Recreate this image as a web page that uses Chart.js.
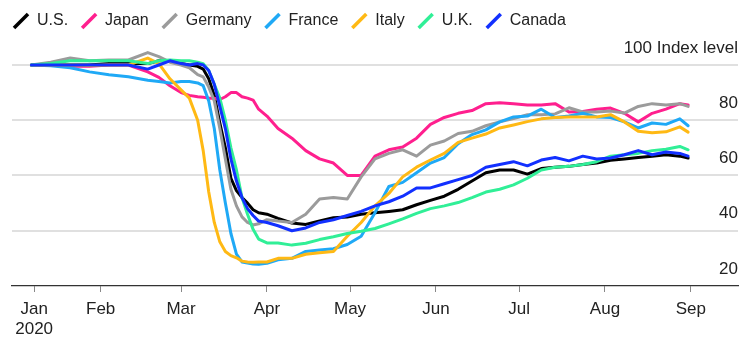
<!DOCTYPE html>
<html>
<head>
<meta charset="utf-8">
<script src="https://cdn.jsdelivr.net/npm/chart.js@4.4.1/dist/chart.umd.min.js"></script>
<style>
    html, body { margin: 0; padding: 0; background: #fff; }
    #mobility-chart { display: block; }
</style>
</head>
<body>
<canvas id="mobility-chart" width="750" height="342"></canvas>
<script>
// day of year (Jan 1 = 0) for each sample
const days = [6, 13, 20, 27, 34, 41, 48, 52, 56, 60, 63, 66, 68, 70, 72, 74, 76, 78, 80, 82, 84, 86, 88, 91, 95,
    100, 105, 110, 115, 120, 125, 130, 135, 140, 145, 150, 155, 160, 165, 170, 175, 180, 185, 190, 195,
    200, 205, 210, 215, 220, 225, 230, 235, 240, 243];

const countries = ['U.S.', 'Japan', 'Germany', 'France', 'Italy', 'U.K.', 'Canada'];

const usValues = [100, 100, 100, 100, 100.5, 100.5, 100.5, 101.5, 101.5, 100.5,
    100, 99.5, 98.5, 95, 89, 79, 70, 59, 54.5, 52,
    50, 47.6, 46.5, 46, 44.5, 42.8, 42.3, 43.5, 44.7, 45,
    46, 46.5, 47, 47.6, 49.4, 51, 52.5, 55, 58, 61,
    62, 62, 60.5, 62.5, 63, 63.3, 64, 64.5, 65.5, 66,
    66.5, 67, 67.5, 67, 66.3];
const japanValues = [100, 100, 99.5, 99.5, 100, 100, 97.5, 95.5, 92.5, 90,
    89, 88.5, 88.3, 88, 88, 87.5, 88.5, 90, 90, 88.5,
    88, 87.3, 84, 81.5, 77, 73.5, 69, 66, 64.5, 60,
    60, 67, 69.3, 70.3, 73.5, 78.5, 81, 82.5, 83.5, 86,
    86.3, 86, 85.5, 85.5, 86, 83, 83.2, 84, 84.4, 82.5,
    79.4, 82.5, 84, 86, 85.5];
const germanyValues = [100, 101, 102.5, 101.5, 101.8, 101.8, 104.5, 103, 101, 100,
    99, 96.5, 95.7, 92, 87, 77, 66, 55, 49, 45,
    43, 42.1, 42.5, 44, 43.5, 43, 46, 51.5, 52, 51.5,
    59.5, 66, 68, 69.3, 67, 71, 72.5, 75.2, 76, 78,
    79.4, 80.6, 82, 82, 82.3, 84.5, 83, 83, 83.3, 82.6,
    85, 86, 85.5, 86, 85];
const franceValues = [100, 99.7, 99, 97.5, 96.5, 95.7, 94.5, 94, 93.5, 94,
    94, 93.5, 92.5, 87, 77, 62, 50, 39, 31.5, 28.7,
    28.3, 28, 27.9, 28.2, 29.5, 30, 32.5, 33, 33.5, 35,
    38, 46.5, 56, 57.5, 61, 64.5, 66.5, 71.5, 74.8, 76.5,
    79.4, 81.2, 81.5, 84, 81, 81.5, 82.5, 81.2, 81, 79.4,
    77.2, 79, 78.5, 80.5, 78];
const italyValues = [100, 100, 100, 99.8, 100, 100, 102.5, 100.5, 95, 91,
    88, 80, 69, 54, 43, 36, 32.5, 31, 30.2, 29,
    28.7, 28.6, 28.7, 28.7, 30, 30, 31.5, 32, 32.5, 38,
    43, 49, 53.5, 59.5, 63, 65.6, 68, 72, 73.5, 75,
    77.2, 78.3, 79.5, 80.5, 81, 81.2, 81.2, 81.2, 82, 79.4,
    76, 75.5, 75.8, 77.6, 75.7];
const ukValues = [100, 100.5, 101.5, 101.5, 101.5, 101.5, 100.5, 101.5, 101.8, 101.5,
    101.5, 101, 100.5, 98, 93, 88, 80, 70, 62, 52,
    46, 40.5, 37, 35.6, 35.6, 34.8, 35.5, 36.8, 37.8, 39,
    39.8, 40.8, 42.5, 44.3, 46.3, 48, 49, 50.2, 52, 54,
    55, 56.6, 59, 62, 63, 63.3, 64, 65, 67, 67.5,
    68, 69, 69.5, 70.5, 69.3];
const canadaValues = [100, 100, 100, 100, 100, 100, 98.5, 100, 101.5, 100.5,
    100, 100.5, 100, 98, 93, 85, 77, 66, 58, 52,
    48, 45.5, 43.5, 43, 41.8, 40, 41, 43, 44, 45.5,
    47, 49, 50.5, 52.5, 55.5, 55.5, 57, 58.5, 60, 63,
    64, 65, 63.5, 65.6, 66.5, 65.3, 67, 66, 66.3, 67.5,
    69, 67.5, 68.5, 68, 67];

const xTickDays = [7, 31, 60, 91, 121, 152, 182, 213, 244];
const xTickLabels = [['Jan', '2020'], 'Feb', 'Mar', 'Apr', 'May', 'Jun', 'Jul', 'Aug', 'Sep'];
const yTicks = [20, 40, 60, 80, 100];

const seriesValues = [usValues, japanValues, germanyValues, franceValues, italyValues, ukValues, canadaValues];
const lineColors = ['#000000', '#ff1f8e', '#9b9b9b', '#1fa9f6', '#ffb914', '#30ef97', '#1230ff'];

Chart.defaults.font.family = "'Liberation Sans', Arial, Helvetica, sans-serif";
Chart.defaults.color = '#222';

const datasets = countries.map((name, i) => ({
    label: name,
    data: days.map((d, j) => ({ x: d, y: seriesValues[i][j] })),
    borderColor: lineColors[i],
    backgroundColor: lineColors[i],
    borderWidth: 3,
    borderJoinStyle: 'round',
    borderCapStyle: 'round',
    tension: 0,
    pointRadius: 0,
    pointHoverRadius: 0,
    pointStyle: 'line',
    pointRotation: -45,
    pointBorderColor: lineColors[i],
    pointBorderWidth: 3.5,
    // later countries drawn on top
    order: countries.length - i,
}));

const canvas = document.getElementById('mobility-chart');
new Chart(canvas, {
    type: 'line',
    data: { datasets },
    options: {
        responsive: false,
        animation: false,
        layout: {
            padding: { left: 0, right: 12, top: 0, bottom: 3 },
        },
        plugins: {
            tooltip: { enabled: false },
            legend: {
                position: 'top',
                align: 'start',
                labels: {
                    usePointStyle: true,
                    boxHeight: 14,
                    padding: 13,
                    color: '#222',
                    font: { size: 16 },
                    sort: (a, b) => a.datasetIndex - b.datasetIndex,
                },
            },
        },
        scales: {
            x: {
                type: 'linear',
                min: -1,
                max: 261,
                afterBuildTicks: (axis) => {
                    axis.ticks = xTickDays.map((v) => ({ value: v }));
                },
                afterFit: (axis) => {
                    axis.height = 53;
                },
                ticks: {
                    autoSkip: false,
                    maxRotation: 0,
                    padding: 8,
                    color: '#222',
                    font: { size: 17, lineHeight: 1.15 },
                    callback: (value, index) => xTickLabels[index],
                },
                grid: {
                    drawOnChartArea: false,
                    drawTicks: true,
                    tickLength: 6,
                    tickColor: '#888',
                    tickWidth: 1,
                },
                border: { color: '#333', width: 1.2 },
            },
            y: {
                type: 'linear',
                position: 'right',
                min: 20,
                max: 109.4,
                afterBuildTicks: (axis) => {
                    axis.ticks = yTicks.map((v) => ({ value: v }));
                },
                ticks: {
                    mirror: true,
                    padding: 0,
                    labelOffset: -17,
                    color: '#222',
                    font: { size: 17 },
                    callback: (value) => (value === 100 ? '100 Index level' : value),
                },
                grid: {
                    drawTicks: false,
                    lineWidth: 2,
                    color: (ctx) => (ctx.tick && ctx.tick.value === 20 ? 'rgba(0,0,0,0)' : '#e0e0e0'),
                },
                border: { display: false },
            },
            // keeps a small gap on the left of the plot
            yLeft: {
                type: 'linear',
                position: 'left',
                afterFit: (axis) => {
                    axis.width = 12;
                },
                ticks: { display: false },
                grid: { display: false },
                border: { display: false },
            },
        },
    },
});
</script>
</body>
</html>
